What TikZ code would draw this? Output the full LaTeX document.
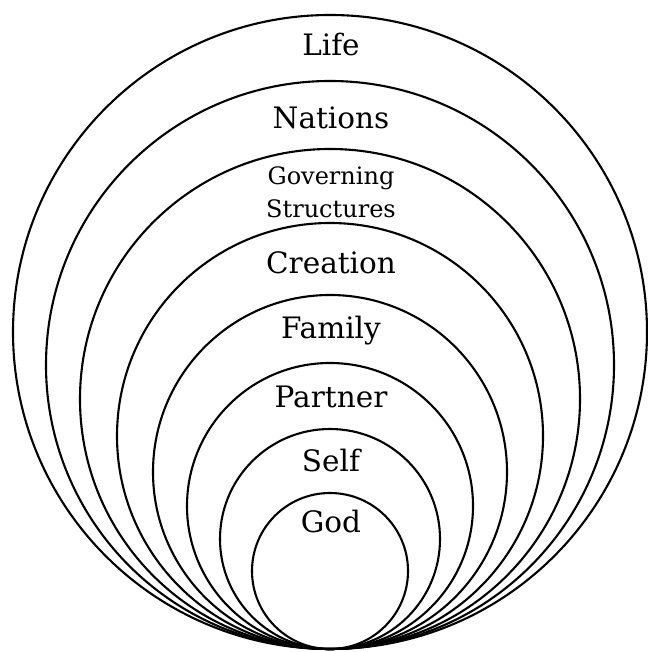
\documentclass[tikz,border=0pt]{standalone}
\usepackage{fontspec}
\setmainfont{DejaVu Serif}
\begin{document}
\begin{tikzpicture}[x=1pt,y=1pt,
  ring/.style={draw=black,line width=2.1pt},
  lab/.style={anchor=base,inner sep=0pt,font=\fontsize{29.5}{33}\selectfont},
  smalllab/.style={anchor=base,inner sep=0pt,align=center,font=\fontsize{24}{33}\selectfont}]
\useasboundingbox (0,0) rectangle (647,652);
\foreach \r/\n in {317/life,284/nations,250/gov,213/creation,177/family,143/partner,110/self,78/god}{
  \draw[ring] (330,{3+\r}) circle[radius=\r];
}
\node[lab] (life) at (331,{652-56}) {Life};
\node[lab] (nations) at (331,{652-129}) {Nations};
\node[smalllab] (gov1) at (331,{652-185}) {Governing};
\node[smalllab] (gov2) at (331,{652-218}) {Structures};
\node[lab] (creation) at (331,{652-274}) {Creation};
\node[lab] (family) at (331,{652-339}) {Family};
\node[lab] (partner) at (331,{652-408}) {Partner};
\node[lab] (self) at (331,{652-472}) {Self};
\node[lab] (god) at (331,{652-533}) {God};
\end{tikzpicture}
\end{document}
